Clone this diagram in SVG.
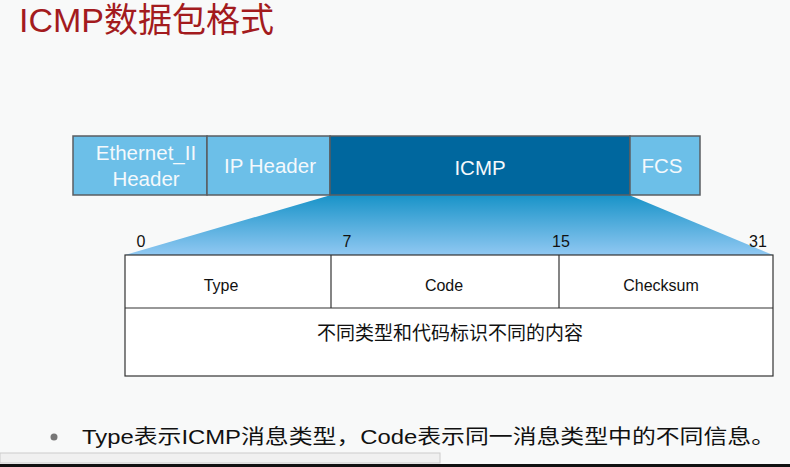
<svg xmlns="http://www.w3.org/2000/svg" width="790" height="467" viewBox="0 0 790 467">
<defs>
<linearGradient id="fan" x1="0" y1="0" x2="0" y2="1">
<stop offset="0" stop-color="#1893C8"/>
<stop offset="1" stop-color="#90C8F2"/>
</linearGradient>
<style>
.t{font-family:"Liberation Sans","Noto Sans CJK SC",sans-serif}
.lb{fill:#6CBFE8;stroke:#5A5E62;stroke-width:1.5}
.db{fill:#00679E;stroke:#5A5E62;stroke-width:1.5}
.wt{fill:#F4F9FC;font-size:20.5px;text-anchor:middle}
.cell{fill:#FFFFFF;stroke:#333;stroke-width:1.2}
.bk{fill:#111;text-anchor:middle}
</style>
</defs>
<rect width="790" height="467" fill="#F8F9F9"/>
<text class="t" x="19" y="32" font-size="34" fill="#A31B1E">ICMP数据包格式</text>

<g id="fan-shape">
<polygon points="331,195 629,195 773,255 125,255" fill="url(#fan)"/>
</g>

<g id="frame">
<g id="ethernet"><rect class="lb" x="73" y="136" width="134" height="59"/>
<text class="t wt" x="146" y="160">Ethernet_II</text>
<text class="t wt" x="146" y="186">Header</text></g>
<g id="ipheader"><rect class="lb" x="207" y="136" width="123" height="59"/>
<text class="t wt" x="270" y="173">IP Header</text></g>
<g id="icmp"><rect class="db" x="330" y="136" width="300" height="59"/>
<text class="t wt" x="480" y="175">ICMP</text></g>
<g id="fcs"><rect class="lb" x="630" y="136" width="70" height="59"/>
<text class="t wt" x="662" y="173">FCS</text></g>
</g>

<g id="bits" class="t bk" font-size="16">
<text x="141" y="247">0</text>
<text x="347" y="247">7</text>
<text x="561" y="247">15</text>
<text x="758" y="247">31</text>
</g>

<g id="table">
<rect class="cell" x="125" y="255" width="648" height="121"/>
<line x1="125" y1="308" x2="773" y2="308" stroke="#333" stroke-width="1.2"/>
<line x1="331" y1="255" x2="331" y2="308" stroke="#333" stroke-width="1.2"/>
<line x1="559" y1="255" x2="559" y2="308" stroke="#333" stroke-width="1.2"/>
<g id="type"><text class="t bk" x="221" y="291" font-size="16">Type</text></g>
<g id="code"><text class="t bk" x="444" y="291" font-size="16">Code</text></g>
<g id="checksum"><text class="t bk" x="661" y="291" font-size="16">Checksum</text></g>
<g id="content"><text class="t bk" x="450" y="340" font-size="19" fill="#222">不同类型和代码标识不同的内容</text></g>
</g>

<g id="bullet">
<circle cx="54" cy="437" r="3.5" fill="#777"/>
<text class="t" x="82" y="444" font-size="20" fill="#111" textLength="693" lengthAdjust="spacingAndGlyphs">Type表示ICMP消息类型，Code表示同一消息类型中的不同信息。</text>
</g>

<rect x="0" y="453" width="440" height="10" fill="#F0F0F0" stroke="#CCC" stroke-width="1"/>
<rect x="0" y="464" width="790" height="3" fill="#111"/>
</svg>
